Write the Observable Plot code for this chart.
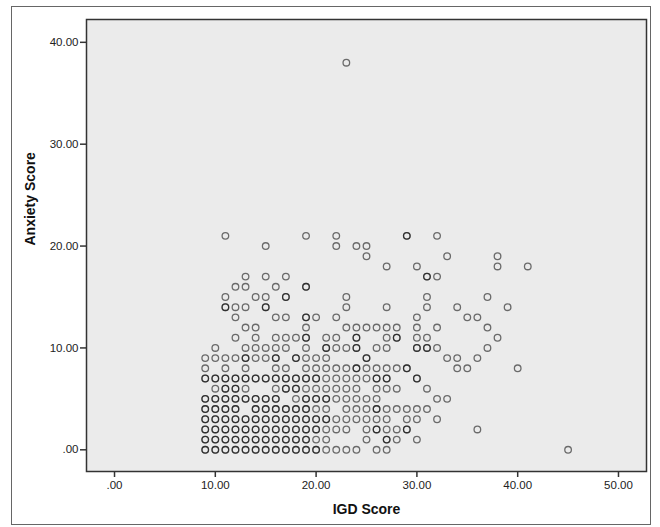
<!DOCTYPE html>
<html>
<head>
<meta charset="utf-8">
<script src="https://cdn.jsdelivr.net/npm/d3@7"></script>
<script src="https://cdn.jsdelivr.net/npm/@observablehq/plot@0.6"></script>
<style>
  html, body { margin: 0; padding: 0; background: #fff; }
  #wrap { position: relative; width: 660px; height: 527px; }
  #outer { position: absolute; left: 11px; top: 6px; width: 640px; height: 519px; border: 1px solid #666; box-sizing: border-box; pointer-events: none; }
  svg { display: block; }
</style>
</head>
<body>
<div id="wrap"><div id="outer"></div></div>
<script>
// Anxiety score levels (y) and the IGD scores (x) observed at each level
const anxietyLevels = [0,1,2,3,4,5,6,7,8,9,10,11,12,13,14,15,16,17,18,19,20,21,38];
const igdAtLevel = [
  [9,10,11,12,13,14,15,16,17,18,19,20,21,22,23,24,26,27,45],
  [9,10,11,12,13,14,15,16,17,18,19,20,21,25,27,28,30],
  [9,10,11,12,13,14,15,16,17,18,19,20,21,22,23,25,26,27,28,29,36],
  [9,10,11,12,13,14,15,16,17,18,19,20,21,22,23,24,25,26,27,29,30,32],
  [9,10,11,12,14,15,16,17,18,19,20,21,23,24,25,26,27,28,29,30,31],
  [9,10,11,12,13,14,15,16,18,19,20,21,22,23,24,25,26,32,33],
  [10,11,12,13,16,17,18,19,20,21,22,23,24,26,27,28,31],
  [9,10,11,12,13,14,15,16,17,18,19,20,21,22,23,24,25,26,27,30],
  [9,11,13,16,17,19,20,21,22,23,24,25,26,27,28,29,34,35,40],
  [9,10,11,12,13,14,15,16,18,19,20,21,25,33,34,36],
  [10,13,14,15,16,17,19,21,22,23,24,26,27,30,31,32,37],
  [12,14,16,17,18,19,21,22,24,27,28,30,31,38],
  [13,14,19,23,24,25,26,27,28,30,32,37],
  [12,16,17,19,20,22,30,35,36],
  [11,12,13,15,23,27,31,34,39],
  [11,14,15,17,23,31,37],
  [12,13,16,19],
  [13,15,17,31,32],
  [27,30,38,41],
  [25,33,38],
  [15,22,24,25],
  [11,19,22,29,32],
  [23]
];
// IGD scores shared by more than one respondent at a level (overlapping, darker circles)
const repeatedAtLevel = [
  [9,10,11,12,13,14,15,16,17,18,19,20],
  [9,10,11,12,13,14,15,16,17,18,19,27],
  [9,10,11,12,13,14,15,16,17,18,19,20,26,29],
  [9,10,11,12,13,14,15,16,17,18,19,20,21],
  [9,10,11,12,14,15,16,17,18,19,26],
  [9,10,11,12,13,14,15,16,19,20,21],
  [11,12,17,18],
  [9,10,11,12,13,14,15,16,17,18,19,20,26,27,30],
  [24,29],
  [13,16,18,25],
  [21,24,30,31],
  [19,24,28],
  [],
  [19],
  [11,15],
  [17],
  [19],
  [31],
  [], [], [],
  [29],
  []
];
const xTicks = [0,10,20,30,40,50];
const yTicks = [0,10,20,30,40];

const points = [];
anxietyLevels.forEach((lvl, i) => {
  igdAtLevel[i].forEach(x => points.push({igd: x, anxiety: lvl}));
  repeatedAtLevel[i].forEach(x => points.push({igd: x, anxiety: lvl}));
});

const fmt = d => d === 0 ? ".00" : d.toFixed(2);

const chart = Plot.plot({
  width: 660,
  height: 527,
  marginLeft: 86,
  marginRight: 14,
  marginTop: 19,
  marginBottom: 56,
  style: {background: "transparent", fontFamily: "'Liberation Sans', Arial, sans-serif", fontSize: "11.5px", color: "#222"},
  x: {domain: [-2.78, 52.78]},
  y: {domain: [-2.13, 42.24]},
  marks: [
    Plot.frame({fill: "#ebebeb"}),
    Plot.axisX({ticks: xTicks, tickFormat: fmt, tickSize: 6, tickPadding: 3, label: null, stroke: "#333", strokeWidth: 1.5}),
    Plot.axisY({ticks: yTicks, tickFormat: fmt, tickSize: 6, tickPadding: 2, label: null, stroke: "#333", strokeWidth: 1.5}),
    Plot.dot(points, {x: "igd", y: "anxiety", r: 3.3, stroke: "#000", strokeOpacity: 0.55, strokeWidth: 1.3, fill: "none"}),
    Plot.frame({stroke: "#333", strokeWidth: 1.5}),
    Plot.text(["IGD Score"], {frameAnchor: "bottom", dy: 38, text: d => d, fontWeight: "bold", fontSize: 14, fill: "#111", lineAnchor: "middle"}),
    Plot.text(["Anxiety Score"], {frameAnchor: "left", dx: -56, rotate: -90, text: d => d, fontWeight: "bold", fontSize: 14, fill: "#111", lineAnchor: "middle"})
  ]
});
document.getElementById("wrap").insertBefore(chart, document.getElementById("outer"));
</script>
</body>
</html>
